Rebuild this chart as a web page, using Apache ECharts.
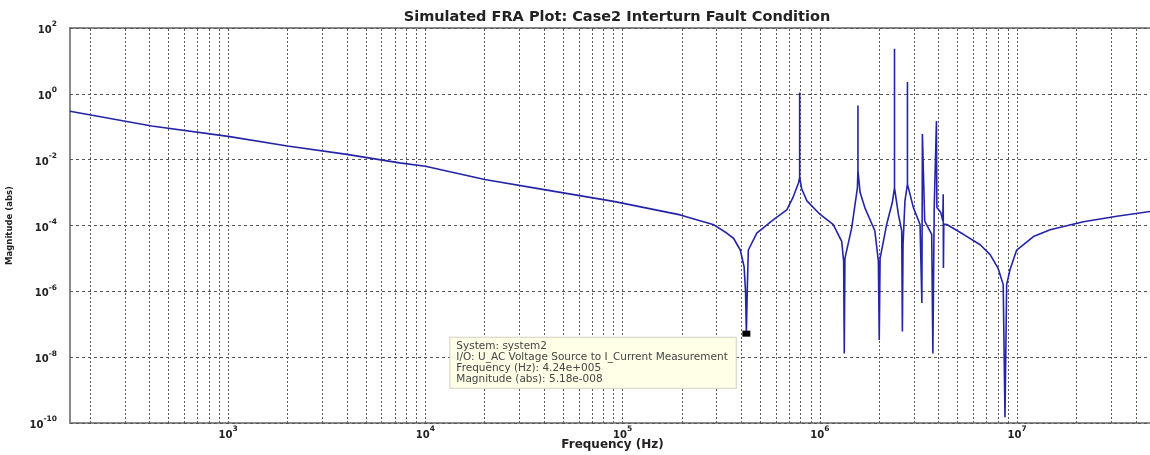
<!DOCTYPE html>
<html>
<head>
<meta charset="utf-8">
<script src="https://cdn.jsdelivr.net/npm/echarts@6/dist/echarts.min.js"></script>
<style>
  html, body { margin: 0; padding: 0; background: #fff; }
  #chart { width: 1150px; height: 455px; }
</style>
</head>
<body>
<div id="chart"></div>
<script>
// frequency (Hz) and magnitude (abs)
const freq = [
  158, 410, 1000, 2000, 4000, 7400, 1e4, 2e4, 4e4, 9e4,
  1.96e5, 2.9e5, 3.37e5, 3.65e5, 3.95e5, 4.13e5, 4.2e5, 4.24e5, 4.3e5, 4.34e5,
  4.79e5, 5.82e5, 6.8e5, 7.3e5, 7.8e5, 7.9e5, 7.9e5, 7.9e5, 8.1e5, 8.6e5,
  1.0e6, 1.17e6, 1.29e6, 1.32e6, 1.33e6, 1.34e6, 1.45e6, 1.55e6, 1.56e6, 1.56e6,
  1.56e6, 1.6e6, 1.69e6, 1.9e6, 1.98e6, 2.0e6, 2.02e6, 2.18e6, 2.33e6, 2.39e6,
  2.39e6, 2.39e6, 2.5e6, 2.6e6, 2.62e6, 2.64e6, 2.7e6, 2.78e6, 2.78e6, 2.78e6,
  2.98e6, 3.22e6, 3.29e6, 3.31e6, 3.4e6, 3.69e6, 3.74e6, 3.8e6, 3.88e6, 3.9e6,
  3.92e6, 4.1e6, 4.2e6, 4.22e6, 4.23e6, 4.25e6, 4.4e6, 5.34e6, 6.5e6, 7.3e6,
  8.0e6, 8.5e6, 8.68e6, 8.85e6, 9.2e6, 9.95e6, 1.21e7, 1.47e7, 2.17e7, 3.2e7,
  5e7
];
const mag = [
  0.296, 0.105, 0.051, 0.026, 0.0145, 0.008, 0.0063, 0.0025, 0.00123, 5.4e-4,
  2.1e-4, 1.05e-4, 5.9e-5, 4.1e-5, 1.8e-5, 5.6e-6, 1e-6, 5.18e-8, 2.5e-6, 1.8e-5,
  5.9e-5, 1.5e-4, 3.0e-4, 7e-4, 2e-3, 2.9e-3, 1.1, 2.9e-3, 1.26e-3, 5.6e-4,
  2.2e-4, 1.07e-4, 3.3e-5, 8.3e-6, 1.3e-8, 1e-5, 8.5e-5, 1.4e-3, 4.7e-3, 0.44,
  4.7e-3, 1e-3, 3.5e-4, 6.9e-5, 8.3e-6, 3.3e-8, 1e-5, 1.07e-4, 5e-4, 1.4e-3,
  23.6, 1.4e-3, 2.2e-4, 6.9e-5, 6e-8, 2.5e-5, 5.6e-4, 1.8e-3, 2.3, 1.8e-3,
  3.5e-4, 1.07e-4, 4.4e-7, 0.06, 1.35e-4, 5.4e-5, 1.3e-8, 3.5e-4, 3.5e-4, 0.15,
  3.5e-4, 2.5e-4, 1.4e-4, 8.9e-4, 5.1e-6, 1.1e-4, 1.07e-4, 5.4e-5, 2.6e-5, 1.3e-5,
  5.1e-6, 1.6e-6, 1.5e-10, 1.6e-6, 4.5e-6, 1.8e-5, 4.6e-5, 7.4e-5, 1.3e-4, 1.9e-4,
  2.8e-4
];
const decades = [100, 1000, 1e4, 1e5, 1e6, 1e7];
const xMin = 158;
const xMax = 5e7;

// data tip
const tipFreq = 4.24e5;
const tipMag = 5.18e-8;
const tipLines = [
  "System: system2",
  "I/O: U_AC Voltage Source to I_Current Measurement",
  "Frequency (Hz): 4.24e+005",
  "Magnitude (abs): 5.18e-008",
];

const font = "DejaVu Sans";

// vertical grid lines at 1..9 x 10^n
const vLines = [];
decades.forEach((d) => {
  for (let k = 1; k <= 9; k++) {
    const v = k * d;
    if (v > xMin && v < xMax) vLines.push({ xAxis: v });
  }
});

function powLabel(value) {
  const e = Math.round(Math.log10(value));
  return "{b|10}{s|" + e + "}";
}
const richLabel = {
  b: { fontSize: 10, fontWeight: "bold", fontFamily: font, color: "#222", lineHeight: 15, verticalAlign: "bottom" },
  s: { fontSize: 7.5, fontWeight: "bold", fontFamily: font, color: "#222", lineHeight: 15, verticalAlign: "top" },
};

const myChart = echarts.init(document.querySelector("#chart"));
const option = {
  animation: false,
  backgroundColor: "#fff",
  title: {
    text: "Simulated FRA Plot: Case2 Interturn Fault Condition",
    left: 612,
    top: 5,
    textAlign: "center",
    textStyle: { fontFamily: font, fontSize: 14.5, fontWeight: "bold", color: "#222" },
  },
  grid: {
    left: 70,
    right: -5,
    top: 28,
    bottom: 32,
    outerBoundsMode: "none",
    show: true,
    borderColor: "#8a8a8a",
    borderWidth: 2,
  },
  xAxis: {
    type: "log",
    logBase: 10,
    min: xMin,
    max: xMax,
    name: "Frequency (Hz)",
    nameLocation: "middle",
    nameGap: 16,
    nameMoveOverlap: false,
    nameTextStyle: { fontFamily: font, fontSize: 12, fontWeight: "bold", color: "#222" },
    axisLine: { show: false },
    axisTick: { show: false },
    splitLine: { show: false },
    axisLabel: {
      margin: 2,
      showMinLabel: false,
      showMaxLabel: false,
      formatter: powLabel,
      rich: richLabel,
    },
  },
  yAxis: {
    type: "log",
    logBase: 10,
    min: 1e-10,
    max: 1e2,
    interval: 2,
    name: "Magnitude (abs)",
    nameLocation: "middle",
    nameGap: 56,
    nameMoveOverlap: false,
    nameTextStyle: { fontFamily: font, fontSize: 8.5, fontWeight: "bold", color: "#222" },
    axisLine: { show: false },
    axisTick: { show: false },
    splitLine: {
      show: true,
      lineStyle: { color: "#555", width: 1, type: [3, 3] },
    },
    axisLabel: {
      margin: 13,
      formatter: powLabel,
      rich: richLabel,
    },
  },
  series: [
    {
      type: "line",
      z: 3,
      symbol: "none",
      data: freq.map((f, i) => [f, mag[i]]),
      lineStyle: { color: "#2424a8", width: 1.6 },
      markLine: {
        silent: true,
        z: 1,
        symbol: "none",
        label: { show: false },
        lineStyle: { color: "#5a5a5a", width: 1, type: [2, 2] },
        data: vLines,
      },
      markPoint: {
        silent: true,
        symbol: "rect",
        symbolSize: [8, 6],
        itemStyle: { color: "#000" },
        label: {
          show: true,
          position: [-292, 7],
          align: "left",
          verticalAlign: "top",
          formatter: tipLines.join("\n"),
          fontFamily: font,
          fontSize: 10.5,
          lineHeight: 11,
          color: "#444",
          backgroundColor: "#ffffe8",
          borderColor: "#d0d0c0",
          borderWidth: 1,
          padding: [3, 8, 3, 6],
        },
        data: [{ coord: [tipFreq, tipMag] }],
      },
    },
  ],
};
myChart.setOption(option);
window.addEventListener("resize", () => {
  myChart.resize();
});
</script>
</body>
</html>
